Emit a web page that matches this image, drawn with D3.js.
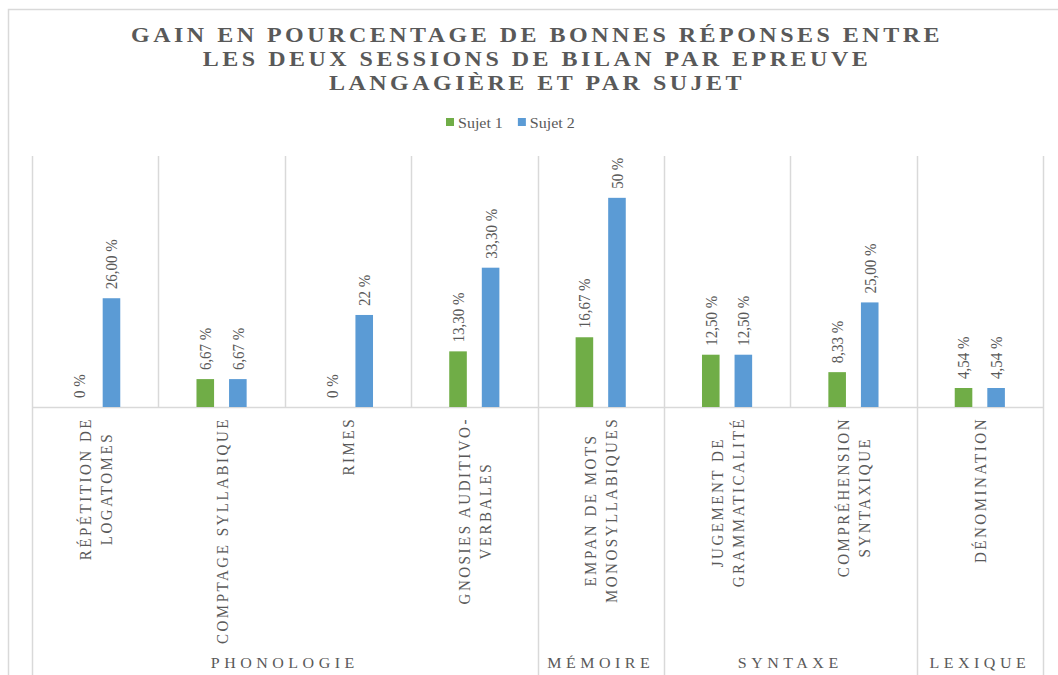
<!DOCTYPE html>
<html>
<head>
<meta charset="utf-8">
<script src="https://cdn.jsdelivr.net/npm/d3@7"></script>
<style>
  body { margin: 0; background: #fff; }
</style>
</head>
<body>
<div id="chart"></div>
<script>
var categories = ["RÉPÉTITION DE\nLOGATOMES", "COMPTAGE SYLLABIQUE", "RIMES", "GNOSIES AUDITIVO-\nVERBALES",
                  "EMPAN DE MOTS\nMONOSYLLABIQUES", "JUGEMENT DE\nGRAMMATICALITÉ", "COMPRÉHENSION\nSYNTAXIQUE", "DÉNOMINATION"]
var groups = ["PHONOLOGIE", "PHONOLOGIE", "PHONOLOGIE", "PHONOLOGIE", "MÉMOIRE", "SYNTAXE", "SYNTAXE", "LEXIQUE"]
var series = ["Sujet 1", "Sujet 2"]
var sujet1 = [0, 6.67, 0, 13.30, 16.67, 12.50, 8.33, 4.54]
var sujet2 = [26.00, 6.67, 22, 33.30, 50, 12.50, 25.00, 4.54]
var sujet1Labels = ["0 %", "6,67 %", "0 %", "13,30 %", "16,67 %", "12,50 %", "8,33 %", "4,54 %"]
var sujet2Labels = ["26,00 %", "6,67 %", "22 %", "33,30 %", "50 %", "12,50 %", "25,00 %", "4,54 %"]
var titleLines = ["GAIN EN POURCENTAGE DE BONNES RÉPONSES ENTRE", "LES DEUX SESSIONS DE BILAN PAR EPREUVE", "LANGAGIÈRE ET PAR SUJET"]

var width = 1058,
    height = 675,
    K = 0.88,           // the picture is a bit squashed vertically
    colors = ["#70AD47", "#5B9BD5"],
    grid = "#D9D9D9",
    ink = "#595959",
    font = "'Liberation Serif'"

var svg = d3.select("#chart").append("svg")
    .attr("width", width)
    .attr("height", height)

function txt(sel, size) {
  return sel.style("font-family", font).style("font-size", size + "px").style("fill", ink)
}

// chart area border (runs off the picture on the right and bottom)
svg.append("rect")
    .attr("x", 8.5).attr("y", 9.5)
    .attr("width", 1200).attr("height", 1000)
    .attr("fill", "none").attr("stroke", grid).attr("stroke-width", 1.5)

var x0 = d3.scaleBand()
    .domain(d3.range(categories.length))
    .range([32, 1043])

var x1 = d3.scaleBand()
    .domain(series)
    .range([0, x0.bandwidth()])
    .paddingInner(0.46)
    .paddingOuter(1.17)

var y = d3.scaleLinear()
    .domain([0, 60])
    .range([407, 156])

// title
svg.append("g").selectAll("text")
    .data(titleLines)
  .enter().append("text")
    .attr("transform", (d, i) => "translate(537," + (42 + i * 24) + ") scale(1," + K + ")")
    .attr("text-anchor", "middle")
    .call(txt, 24)
    .style("font-weight", "bold")
    .style("letter-spacing", "3.5px")
    .text(d => d)

// legend
var legend = svg.append("g")
var lx = 446
series.forEach(function(s, i) {
  legend.append("rect")
      .attr("x", lx).attr("y", 118)
      .attr("width", 8).attr("height", 8)
      .attr("fill", colors[i])
  var t = legend.append("text")
      .attr("transform", "translate(" + (lx + 12) + ",128) scale(1," + K + ")")
      .call(txt, 16)
      .text(s)
  lx += 12 + t.node().getComputedTextLength() + 15
})

// vertical gridlines between categories
var bounds = d3.range(categories.length + 1).map(i => i < categories.length ? x0(i) : x0.range()[1])
svg.append("g").selectAll("line")
    .data(bounds)
  .enter().append("line")
    .attr("x1", d => Math.round(d) + 0.5).attr("x2", d => Math.round(d) + 0.5)
    .attr("y1", y(60)).attr("y2", y(0))
    .attr("stroke", grid).attr("stroke-width", 1.5)

// group boundaries run down through the label area
var groupSpans = []
groups.forEach(function(g, i) {
  var last = groupSpans[groupSpans.length - 1]
  if (last && last.name === g) last.end = i
  else groupSpans.push({name: g, start: i, end: i})
})
var groupBounds = [x0(0)].concat(groupSpans.map(g => x0(g.end) + x0.bandwidth()))
svg.append("g").selectAll("line")
    .data(groupBounds)
  .enter().append("line")
    .attr("x1", d => Math.round(d) + 0.5).attr("x2", d => Math.round(d) + 0.5)
    .attr("y1", y(0)).attr("y2", height + 10)
    .attr("stroke", grid).attr("stroke-width", 1.5)

// baseline
svg.append("line")
    .attr("x1", x0.range()[0]).attr("x2", x0.range()[1])
    .attr("y1", y(0) + 0.5).attr("y2", y(0) + 0.5)
    .attr("stroke", grid).attr("stroke-width", 1.5)

// bars + labels
var values = [sujet1, sujet2]
var labels = [sujet1Labels, sujet2Labels]
series.forEach(function(s, si) {
  var g = svg.append("g")
  g.selectAll("rect")
      .data(values[si])
    .enter().append("rect")
      .attr("x", (d, i) => x0(i) + x1(s))
      .attr("width", x1.bandwidth())
      .attr("y", d => y(d))
      .attr("height", d => y(0) - y(d))
      .attr("fill", colors[si])

  g.selectAll("text")
      .data(values[si])
    .enter().append("text")
      .attr("transform", (d, i) => "translate(" + (x0(i) + x1(s) + x1.bandwidth() / 2) + "," + (y(d) - 9) +
            ") scale(1," + K + ") rotate(-90)")
      .attr("dy", "0.35em")
      .call(txt, 17)
      .text((d, i) => labels[si][i])
})

// category labels, rotated, lines centred inside the block
categories.forEach(function(c, i) {
  var lines = c.split("\n")
  var cx = x0(i) + x0.bandwidth() / 2
  var g = svg.append("g")
      .attr("transform", "translate(" + cx + ",417) scale(1," + K + ") rotate(-90)")
  var texts = g.selectAll("text")
      .data(lines)
    .enter().append("text")
      .attr("y", (d, j) => (j - (lines.length - 1) / 2) * 21)
      .attr("dy", "0.35em")
      .attr("text-anchor", "middle")
      .call(txt, 17)
      .style("letter-spacing", "2.9px")
      .text(d => d)
  var maxLen = d3.max(texts.nodes(), n => n.getComputedTextLength())
  texts.attr("x", -maxLen / 2)
})

// group labels
svg.append("g").selectAll("text")
    .data(groupSpans)
  .enter().append("text")
    .attr("transform", d => "translate(" + ((x0(d.start) + x0(d.end) + x0.bandwidth()) / 2) + ",668) scale(1," + K + ")")
    .attr("text-anchor", "middle")
    .call(txt, 16)
    .style("letter-spacing", "4.5px")
    .text(d => d.name)
</script>
</body>
</html>
